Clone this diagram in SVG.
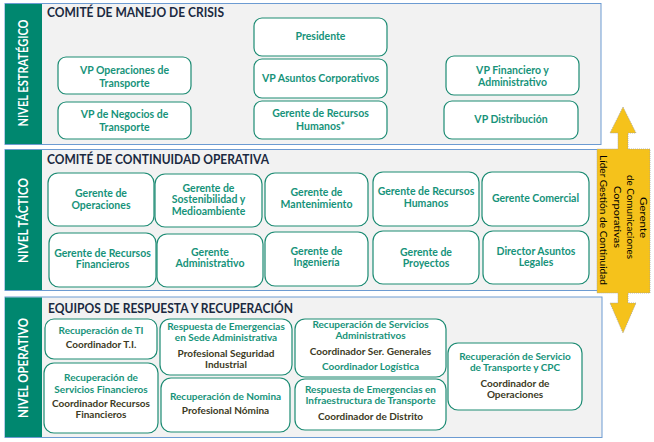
<svg xmlns="http://www.w3.org/2000/svg" width="654" height="442" viewBox="0 0 654 442">
<style>
.panel{fill:#F2F2F2;stroke:#6C9BD2;stroke-width:1}
.band{fill:#00876F}
.band-t{font-family:Lato,"Liberation Sans",sans-serif;font-weight:bold;font-size:13px;fill:#FFFFFF;text-anchor:middle}
.title{font-family:Lato,"Liberation Sans",sans-serif;font-weight:bold;font-size:13px;fill:#1B2A41}
.node{fill:#FFFFFF;stroke:#1C8B73;stroke-width:1.2}
.t{font-family:Lato,"Liberation Sans",sans-serif;font-weight:bold;font-size:10.5px;fill:#17937A;text-anchor:middle}
.s{font-family:Lato,"Liberation Sans",sans-serif;font-weight:bold;font-size:10px;text-anchor:middle}
.g{fill:#17937A}
.d{fill:#3C3A24}
.arrow{fill:#F5C21B;stroke:#A0A0A0;stroke-width:0.8;stroke-dasharray:1 1}
.at{font-family:Lato,"Liberation Sans",sans-serif;font-size:10px;fill:#000000;text-anchor:middle}
</style>

<!-- Panels -->
<g id="panel-estrategico">
<rect class="panel" x="5" y="3.5" width="596" height="141"/>
<rect class="band" x="5" y="4" width="37" height="140"/>
<text class="band-t" transform="translate(28,73) rotate(-90)" textLength="107" lengthAdjust="spacingAndGlyphs">NIVEL ESTRATÉGICO</text>
<text class="title" x="47" y="17" textLength="177" lengthAdjust="spacingAndGlyphs">COMITÉ DE MANEJO DE CRISIS</text>
</g>
<g id="panel-tactico">
<rect class="panel" x="5" y="149.5" width="596" height="141"/>
<rect class="band" x="5" y="150" width="37" height="140"/>
<text class="band-t" transform="translate(28,220.5) rotate(-90)" textLength="85" lengthAdjust="spacingAndGlyphs">NIVEL  TÁCTICO</text>
<text class="title" x="47" y="164" textLength="222" lengthAdjust="spacingAndGlyphs">COMITÉ DE CONTINUIDAD OPERATIVA</text>
</g>
<g id="panel-operativo">
<rect class="panel" x="5" y="297" width="597" height="140.5"/>
<rect class="band" x="5" y="297.5" width="37" height="139.5"/>
<text class="band-t" transform="translate(28,368) rotate(-90)" textLength="100" lengthAdjust="spacingAndGlyphs">NIVEL  OPERATIVO</text>
<text class="title" x="48" y="313" textLength="245" lengthAdjust="spacingAndGlyphs">EQUIPOS DE RESPUESTA Y RECUPERACIÓN</text>
</g>

<!-- Strategic nodes -->
<g id="n-vp-operaciones"><rect class="node" x="58" y="57" width="133" height="37" rx="8"/>
<text class="t" x="124.5" y="74">VP Operaciones de</text><text class="t" x="124.5" y="86.5">Transporte</text></g>
<g id="n-vp-negocios"><rect class="node" x="58" y="102" width="133" height="37" rx="8"/>
<text class="t" x="124.5" y="118">VP de Negocios de</text><text class="t" x="124.5" y="130.5">Transporte</text></g>
<g id="n-presidente"><rect class="node" x="254" y="18" width="133" height="38" rx="8"/>
<text class="t" x="320.5" y="40">Presidente</text></g>
<g id="n-vp-asuntos"><rect class="node" x="254" y="59" width="133" height="39" rx="8"/>
<text class="t" x="320.5" y="82">VP Asuntos  Corporativos</text></g>
<g id="n-gerente-rh-est"><rect class="node" x="254" y="101" width="133" height="38" rx="8"/>
<text class="t" x="320.5" y="117">Gerente de Recursos</text><text class="t" x="320.5" y="129.5">Humanos*</text></g>
<g id="n-vp-financiero"><rect class="node" x="446" y="56" width="133" height="39" rx="8"/>
<text class="t" x="512.5" y="73.5">VP Financiero y</text><text class="t" x="512.5" y="86">Administrativo</text></g>
<g id="n-vp-distribucion"><rect class="node" x="444" y="101" width="134" height="38" rx="8"/>
<text class="t" x="511" y="123">VP Distribución</text></g>

<!-- Tactical nodes -->
<g id="n-g-operaciones"><rect class="node" x="48" y="173" width="106" height="53" rx="10"/>
<text class="t" x="101" y="197">Gerente de</text><text class="t" x="101" y="208.5">Operaciones</text></g>
<g id="n-g-sostenibilidad"><rect class="node" x="155" y="174" width="107" height="53" rx="10"/>
<text class="t" x="208.5" y="191.5">Gerente de</text><text class="t" x="208.5" y="203">Sostenibilidad y</text><text class="t" x="208.5" y="214.5">Medioambiente</text></g>
<g id="n-g-mantenimiento"><rect class="node" x="265" y="173" width="103" height="53" rx="10"/>
<text class="t" x="316.5" y="196">Gerente de</text><text class="t" x="316.5" y="207.5">Mantenimiento</text></g>
<g id="n-g-rh"><rect class="node" x="373" y="172" width="106" height="54" rx="10"/>
<text class="t" x="426" y="195">Gerente de Recursos</text><text class="t" x="426" y="206.5">Humanos</text></g>
<g id="n-g-comercial"><rect class="node" x="482" y="172" width="107" height="54" rx="10"/>
<text class="t" x="535.5" y="202">Gerente Comercial</text></g>
<g id="n-g-financieros"><rect class="node" x="49" y="233" width="107" height="54" rx="10"/>
<text class="t" x="102.5" y="256.5">Gerente de Recursos</text><text class="t" x="102.5" y="267.5">Financieros</text></g>
<g id="n-g-administrativo"><rect class="node" x="157" y="234" width="106" height="53" rx="10"/>
<text class="t" x="210" y="256">Gerente</text><text class="t" x="210" y="267">Administrativo</text></g>
<g id="n-g-ingenieria"><rect class="node" x="265" y="232" width="103" height="54" rx="10"/>
<text class="t" x="316.5" y="255">Gerente de</text><text class="t" x="316.5" y="266">Ingeniería</text></g>
<g id="n-g-proyectos"><rect class="node" x="373" y="231" width="106" height="53" rx="10"/>
<text class="t" x="426" y="256">Gerente de</text><text class="t" x="426" y="267">Proyectos</text></g>
<g id="n-d-legales"><rect class="node" x="483" y="231" width="106" height="53" rx="10"/>
<text class="t" x="536" y="255">Director Asuntos</text><text class="t" x="536" y="266">Legales</text></g>

<!-- Operational nodes -->
<g id="n-rec-ti"><rect class="node" x="45" y="319" width="112" height="40" rx="9"/>
<text class="s g" x="101" y="334">Recuperación de TI</text><text class="s d" x="101" y="348">Coordinador T.I.</text></g>
<g id="n-rec-financieros"><rect class="node" x="44" y="363" width="114" height="70" rx="10"/>
<text class="s g" x="101" y="381">Recuperación de</text><text class="s g" x="101" y="392.5">Servicios Financieros</text>
<text class="s d" x="101" y="407">Coordinador Recursos</text><text class="s d" x="101" y="418">Financieros</text></g>
<g id="n-resp-sede"><rect class="node" x="160" y="319" width="132" height="56" rx="10"/>
<text class="s g" x="226" y="330">Respuesta de Emergencias</text><text class="s g" x="226" y="341">en Sede  Administrativa</text>
<text class="s d" x="226" y="357">Profesional Seguridad</text><text class="s d" x="226" y="368">Industrial</text></g>
<g id="n-rec-nomina"><rect class="node" x="161" y="378" width="129" height="54" rx="10"/>
<text class="s g" x="225.5" y="400">Recuperación de Nomina</text><text class="s d" x="225.5" y="414">Profesional Nómina</text></g>
<g id="n-rec-administrativos"><rect class="node" x="295" y="319" width="151" height="58" rx="10"/>
<text class="s g" x="370.5" y="328">Recuperación de Servicios</text><text class="s g" x="370.5" y="338.5">Administrativos</text>
<text class="s d" x="370.5" y="355">Coordinador Ser. Generales</text><text class="s g" x="370.5" y="370">Coordinador Logística</text></g>
<g id="n-resp-infra"><rect class="node" x="295" y="379" width="151" height="51" rx="10"/>
<text class="s g" x="370.5" y="393">Respuesta de Emergencias en</text><text class="s g" x="370.5" y="404">Infraestructura de Transporte</text>
<text class="s d" x="370.5" y="420">Coordinador de Distrito</text></g>
<g id="n-rec-transporte"><rect class="node" x="448" y="343" width="134" height="67" rx="10"/>
<text class="s g" x="515" y="360">Recuperación de Servicio</text><text class="s g" x="515" y="371">de Transporte y CPC</text>
<text class="s d" x="515" y="387">Coordinador de</text><text class="s d" x="515" y="398">Operaciones</text></g>

<!-- Connectors (double arrow callout) -->
<g id="connectors">
<g id="n-lider-continuidad">
<polygon class="arrow" points="623,107 636,133 628,133 628,149 650,149 650,293 628,293 628,303 636,303 623,333 610,303 618,303 618,293 597,293 597,149 618,149 618,133 610,133"/>
<text class="at" transform="translate(639.5,217.5) rotate(90)" textLength="41" lengthAdjust="spacingAndGlyphs">Gerente</text>
<text class="at" transform="translate(626.5,217) rotate(90)" textLength="84" lengthAdjust="spacingAndGlyphs">de Comunicaciones</text>
<text class="at" transform="translate(614,217) rotate(90)" textLength="62" lengthAdjust="spacingAndGlyphs">Corporativas</text>
<text class="at" transform="translate(599.5,220) rotate(90)" textLength="130" lengthAdjust="spacingAndGlyphs">Líder Gestión de Continuidad</text>
</g>
</g>
</svg>
